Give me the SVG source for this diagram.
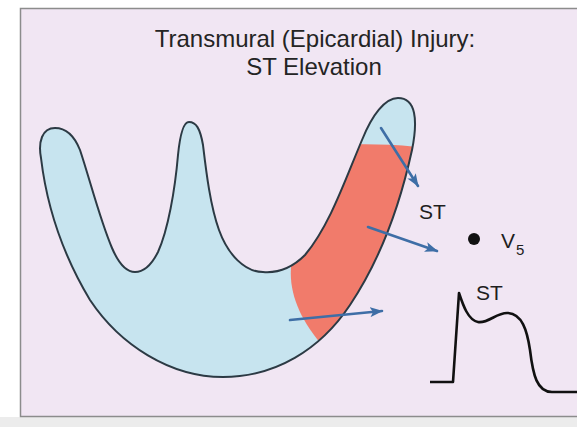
<svg xmlns="http://www.w3.org/2000/svg" width="577" height="427" viewBox="0 0 577 427">
  <style>
    .title { font-family: "Liberation Sans", Arial, sans-serif; font-size: 24px; fill: #242424; text-anchor: middle; }
    .lbl { font-family: "Liberation Sans", Arial, sans-serif; font-size: 21px; fill: #1e1e1e; }
    .outline { fill: none; stroke: #2c3a44; stroke-width: 2; }
    .vec { fill: none; stroke: #3e6ea6; stroke-width: 2.6; stroke-linecap: round; marker-end: url(#head); }
    .ecg { fill: none; stroke: #111; stroke-width: 2.6; stroke-linejoin: round; }
  </style>
  <defs>
    <marker id="head" markerWidth="14" markerHeight="10" refX="12" refY="5" orient="auto" markerUnits="userSpaceOnUse">
      <path d="M0,0 L13,5 L0,10 L3,5 Z" fill="#3e6ea6"/>
    </marker>
    <path id="heartShape" d="M55,128 C42,128 38,142 41,158 C46,200 60,250 90,300 C120,345 170,377 223,377 C275,377 320,350 350,305 C380,260 400,205 412,150 C418,120 416,98 398,98 C385,98 372,115 362,140 C345,180 330,225 305,255 C290,270 275,273 263,272 C245,272 228,255 219,230 C210,205 206,170 203,145 C200,128 196,122 189,122 C183,122 180,135 178,155 C175,190 168,230 158,252 C150,268 142,272 135,272 C125,272 118,262 112,248 C100,220 90,180 80,150 C74,135 66,128 55,128 Z"/>
    <clipPath id="heartClip">
      <use href="#heartShape"/>
    </clipPath>
  </defs>

  <!-- page and panel -->
  <rect x="0" y="0" width="577" height="427" fill="#ffffff"/>
  <rect x="0" y="417" width="577" height="10" fill="#ececec"/>
  <rect x="20.5" y="8.5" width="570" height="408" fill="#f1e6f3" stroke="#8c8c8c" stroke-width="1.5"/>

  <!-- title -->
  <g id="title">
    <text class="title" x="315" y="47">Transmural (Epicardial) Injury:</text>
    <text class="title" x="314" y="75">ST Elevation</text>
  </g>

  <!-- ventricular wall with injured zone -->
  <g id="heart">
    <use href="#heartShape" fill="#c7e4ef"/>
    <path clip-path="url(#heartClip)" fill="#f17b6b" d="M300,150 C330,143 390,142 440,150 L440,360 L322,345 C302,322 289,295 291,268 Z"/>
    <use href="#heartShape" class="outline"/>
  </g>

  <!-- injury current vectors -->
  <g id="vectors">
    <line class="vec" x1="381" y1="128" x2="418" y2="186"/>
    <line class="vec" x1="368" y1="227" x2="437" y2="251"/>
    <line class="vec" x1="290" y1="320" x2="382" y2="311"/>
  </g>

  <!-- lead V5 -->
  <g id="lead">
    <text class="lbl" x="419" y="219">ST</text>
    <circle cx="474" cy="239" r="6" fill="#111"/>
    <text class="lbl" x="501" y="248">V<tspan font-size="15" dx="1" dy="7">5</tspan></text>
  </g>

  <!-- V5 tracing -->
  <g id="tracing">
    <text class="lbl" x="476" y="300">ST</text>
    <path class="ecg" d="M430,382 L453,382 L459,293 C463,305 468,320 478,322 C488,324 497,312 508,313 C522,314 527,330 530,350 C533,375 537,392 552,392 L577,392"/>
  </g>
</svg>
